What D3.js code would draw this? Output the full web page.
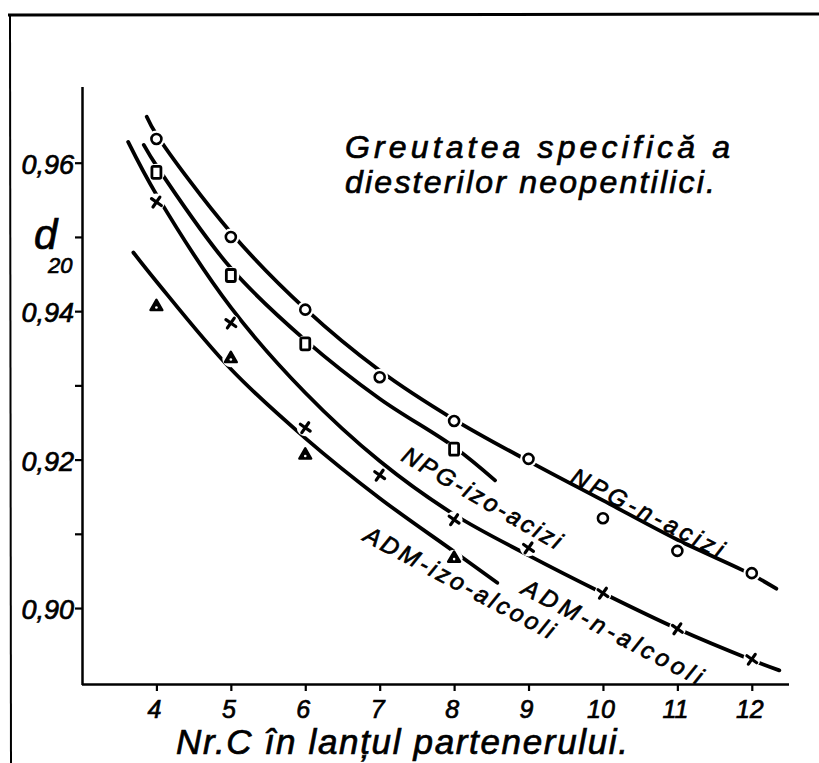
<!DOCTYPE html>
<html><head><meta charset="utf-8">
<script src="https://cdn.jsdelivr.net/npm/d3@7"></script>
<style>
html,body{margin:0;padding:0;background:#fff;}
svg{display:block;}
text{font-family:"Liberation Sans",Arial,sans-serif;font-style:italic;fill:#000;stroke:#000;stroke-width:0.7px;}
</style></head>
<body>
<script>
// ---- data ----
const xTickValues = [4,5,6,7,8,9,10,11,12];
const yTickValues = [0.90,0.91,0.92,0.93,0.94,0.95,0.96];
const yLabelValues = [0.90,0.92,0.94,0.96];
const yLabelTexts = ["0,90","0,92","0,94","0,96"];

// measured points
const nNpgN = [4,5,6,7,8,9,10,11,12];
const dNpgN = [0.9632,0.9500,0.9402,0.9311,0.9252,0.9201,0.9121,0.9077,0.9047];
const nNpgIzo = [4,5,6,8];
const dNpgIzo = [0.9587,0.9448,0.9356,0.9214];
const nAdmN = [4,5,6,7,8,9,10,11,12];
const dAdmN = [0.9547,0.9384,0.9243,0.9179,0.9119,0.9081,0.9020,0.8972,0.8931];
const nAdmIzo = [4,5,6,8];
const dAdmIzo = [0.9406,0.9336,0.9206,0.9067];

// hand-fitted curves
const cNpgN_n = [3.87,4,5,6,7,8,9,10,11,12,12.33];
const cNpgN_d = [0.9662,0.9638,0.9506,0.9403,0.9320,0.9254,0.9198,0.9145,0.9092,0.9045,0.9026];
const cNpgIzo_n = [3.83,4,5,6,7,8,8.55];
const cNpgIzo_d = [0.9624,0.9596,0.9458,0.9361,0.9282,0.9217,0.9172];
const cAdmN_n = [3.62,4,5,6,7,8,9,10,11,12,12.37];
const cAdmN_d = [0.9628,0.9557,0.9405,0.9290,0.9198,0.9126,0.9071,0.9020,0.8972,0.8930,0.8916];
const cAdmIzo_n = [3.69,4,5,6,7,8,8.58];
const cAdmIzo_d = [0.9479,0.9440,0.9322,0.9229,0.9148,0.9076,0.9034];

const seriesNames = ["NPG-n-acizi","NPG-izo-acizi","ADM-n-alcooli","ADM-izo-alcooli"];
const titleLines = ["Greutatea specifică a","diesterilor neopentilici."];
const xTitle = "Nr.C în lanțul partenerului.";

// ---- drawing ----
const W = 819, H = 763;
const FONT = "Liberation Sans, Arial, sans-serif";
const svg = d3.select("body").append("svg").attr("width",W).attr("height",H);

const x = d3.scaleLinear().domain([3,12.5]).range([82,789]);
const y = d3.scaleLinear().domain([0.8899,0.9702]).range([683,87]);

// outer frame
svg.append("line").attr("x1",8).attr("x2",W).attr("y1",15).attr("y2",14)
  .attr("stroke","#000").attr("stroke-width",3);
svg.append("line").attr("x1",10).attr("x2",11).attr("y1",15).attr("y2",H)
  .attr("stroke","#000").attr("stroke-width",2);

// axes
const gx = svg.append("g").attr("transform",`translate(0,${y(0.8899)+1})`)
  .call(d3.axisBottom(x).tickValues(xTickValues).tickSize(7).tickFormat(""));
const gy = svg.append("g").attr("transform",`translate(${x(3)},0)`)
  .call(d3.axisLeft(y).tickValues(yTickValues).tickSize(7).tickFormat(""));
[gx,gy].forEach(g=>{
  g.select(".domain").attr("stroke","#000").attr("stroke-width",2.5);
  g.selectAll(".tick line").attr("stroke","#000").attr("stroke-width",2.2);
});
gx.select(".domain").attr("d",`M${x(3)},0.5H${x(12.5)}`);
gy.select(".domain").attr("d",`M0.5,${y(0.8899)+2}V${y(0.9702)}`);

// tick labels
svg.append("g").selectAll("text").data(xTickValues).join("text")
  .attr("font-family",FONT)
  .attr("x",d=>x(d)-2).attr("y",718).attr("text-anchor","middle")
  .attr("font-size",25).text(d=>d);
svg.append("g").selectAll("text").data(yLabelValues).join("text")
  .attr("font-family",FONT)
  .attr("x",x(3)-8).attr("y",d=>y(d)+11).attr("text-anchor","end")
  .attr("font-size",27).text((d,i)=>yLabelTexts[i]);

// d20
svg.append("text").attr("font-family",FONT).attr("x",34).attr("y",249).attr("font-size",42).text("d");
svg.append("text").attr("font-family",FONT).attr("x",48).attr("y",273).attr("font-size",22).text("20");

// curves
const line = d3.line().x(d=>x(d[0])).y(d=>y(d[1])).curve(d3.curveCatmullRom.alpha(0.5));
const curves = [
  d3.zip(cNpgN_n,cNpgN_d), d3.zip(cNpgIzo_n,cNpgIzo_d),
  d3.zip(cAdmN_n,cAdmN_d), d3.zip(cAdmIzo_n,cAdmIzo_d)];
svg.append("g").selectAll("path").data(curves).join("path")
  .attr("d",line).attr("fill","none").attr("stroke","#000")
  .attr("stroke-width",3.8).attr("stroke-linecap","round");

// markers
const pts = [
  {s:"circle", p:d3.zip(nNpgN,dNpgN)},
  {s:"square", p:d3.zip(nNpgIzo,dNpgIzo)},
  {s:"cross",  p:d3.zip(nAdmN,dAdmN)},
  {s:"tri",    p:d3.zip(nAdmIzo,dAdmIzo)}];
const halo = svg.append("g"), mk = svg.append("g");
pts.forEach(ser=>{
  ser.p.forEach(([n,d])=>{
    const cx = x(n), cy = y(d);
    halo.append("circle").attr("cx",cx).attr("cy",cy).attr("r",8.5).attr("fill","#fff");
    const g = mk.append("g").attr("transform",`translate(${cx},${cy})`);
    if(ser.s==="circle"){
      g.append("circle").attr("r",5).attr("fill","#fff").attr("stroke","#000").attr("stroke-width",2.6);
    } else if(ser.s==="square"){
      g.append("rect").attr("x",-4.5).attr("y",-6).attr("width",9).attr("height",12).attr("rx",1.5)
        .attr("fill","#fff").attr("stroke","#000").attr("stroke-width",2.8);
    } else if(ser.s==="cross"){
      g.append("path").attr("d","M-6,0L6,0M0,-6L0,6").attr("transform","rotate(35)")
        .attr("stroke","#000").attr("stroke-width",3.2).attr("stroke-linecap","round");
    } else {
      g.append("path").attr("d",d3.symbol(d3.symbolTriangle,60)())
        .attr("fill","#000").attr("stroke","#000").attr("stroke-width",2.5).attr("stroke-linejoin","round");
      g.append("circle").attr("r",1.3).attr("cy",0.8).attr("fill","#fff");
    }
  });
});

// curve labels
const labelPos = [
  {n:9.544,d:0.91698,a:27,len:168},
  {n:7.273,d:0.91995,a:30,len:180},
  {n:8.886,d:0.90203,a:27.5,len:200},
  {n:6.762,d:0.90917,a:28,len:212}];
svg.append("g").selectAll("text").data(labelPos).join("text")
  .attr("font-family",FONT).attr("font-style","italic")
  .attr("transform",d=>`translate(${x(d.n)},${y(d.d)}) rotate(${d.a})`)
  .attr("font-size",24).attr("textLength",d=>d.len).attr("lengthAdjust","spacing")
  .text((d,i)=>seriesNames[i]);

// title
svg.append("text").attr("font-family",FONT).attr("x",345).attr("y",158).attr("font-size",32)
  .attr("textLength",385).attr("lengthAdjust","spacing").text(titleLines[0]);
svg.append("text").attr("font-family",FONT).attr("x",345).attr("y",193).attr("font-size",32)
  .attr("textLength",370).attr("lengthAdjust","spacing").text(titleLines[1]);

// x title
svg.append("text").attr("font-family",FONT).attr("x",176).attr("y",754).attr("font-size",35)
  .attr("textLength",452).attr("lengthAdjust","spacing").text(xTitle);
</script>
</body></html>
